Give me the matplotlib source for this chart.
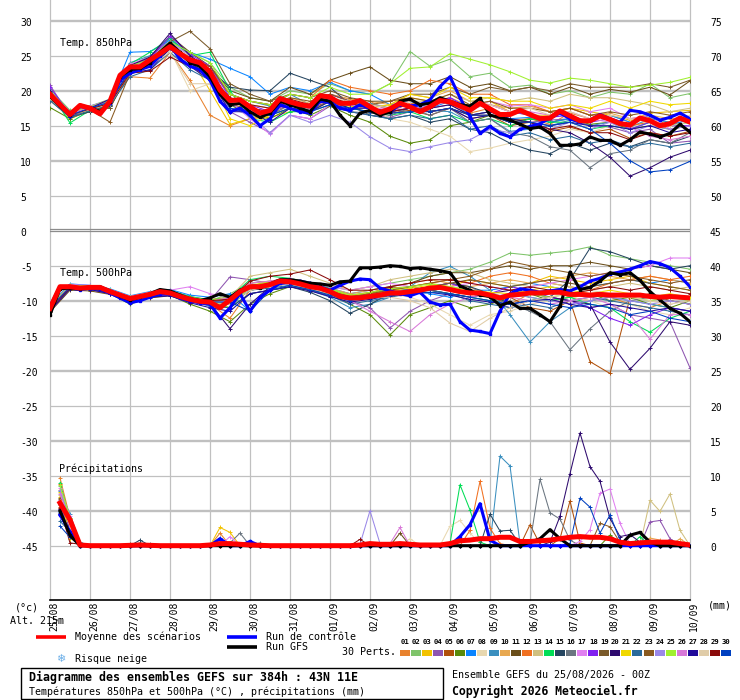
import numpy as np
import matplotlib.pyplot as plt
from matplotlib.patches import Rectangle
from matplotlib.transforms import blended_transform_factory

MONO = 'DejaVu Sans Mono'

dates = ["25/08", "26/08", "27/08", "28/08", "29/08", "30/08", "31/08", "01/09",
         "02/09", "03/09", "04/09", "05/09", "06/09", "07/09", "08/09", "09/09", "10/09"]

member_colors = ["#e8822e", "#7fc46a", "#f2c200", "#8e55b0", "#b0500a", "#5a8a0a",
                 "#0a85ff", "#e8d8b0", "#3a8fbf", "#e8a850", "#6a4e1a", "#f07020",
                 "#d0c080", "#00dd55", "#254560", "#6a7580", "#e080f0", "#8020f0",
                 "#7a5a2a", "#2e0a6e", "#f0d800", "#2a6a9a", "#8a5a20", "#9a88e8",
                 "#a0f030", "#d878d8", "#200a9a", "#e0cca8", "#8a0a0a", "#0040c0"]

# time steps in hours from 25/08 00Z
hours_6 = np.arange(0, 385, 6)
hours_12 = np.arange(0, 385, 12)
hours_pcp = np.arange(6, 385, 6)

# 850 hPa temperature (deg C), 6-hourly
t850_mean = [19.5, 18.0, 16.6, 17.9, 17.5, 16.7, 18.5, 22.2, 23.4, 23.4,
             24.4, 25.3, 26.3, 25.3, 24.4, 24.0, 22.7, 20.1, 18.6, 18.7,
             17.7, 16.8, 17.2, 18.9, 18.4, 18.0, 17.8, 19.3, 19.1, 18.2,
             18.2, 18.6, 17.7, 16.9, 17.4, 18.2, 17.7, 17.0, 17.7, 18.6,
             18.4, 17.8, 17.2, 18.2, 17.4, 16.6, 16.6, 17.2, 16.6, 16.0,
             16.1, 17.1, 16.4, 15.7, 15.7, 16.4, 15.9, 15.3, 15.1, 16.1,
             15.7, 15.0, 15.3, 16.1, 15.5]
t850_ctrl = [19.6, 18.0, 16.4, 17.8, 17.4, 16.8, 18.2, 21.5, 22.5, 23.0,
             23.5, 25.0, 26.5, 24.5, 23.5, 23.0, 21.5, 18.5, 17.0, 17.5,
             16.5, 15.0, 16.0, 18.0, 17.5, 17.0, 16.8, 18.5, 18.3, 17.5,
             17.2, 18.0, 17.5, 16.8, 17.0, 18.0, 17.8, 18.0, 18.7, 20.6,
             22.0, 19.0, 16.3, 13.9, 14.9, 13.9, 13.4, 14.5, 14.9, 15.3,
             16.1, 16.8, 16.0, 15.5, 15.8, 16.6, 16.0, 15.5, 17.2, 17.0,
             16.5, 15.8, 16.2, 16.8, 16.0]
t850_gfs = [19.2, 17.8, 16.5, 17.9, 17.6, 17.0, 18.4, 22.0, 23.0, 23.2,
            24.0, 25.5, 26.8, 25.5, 24.0, 23.5, 22.0, 19.5, 18.0, 18.2,
            17.0, 16.2, 16.8, 18.5, 18.0, 17.5, 17.0, 18.8, 18.5, 16.5,
            15.0, 16.8, 17.2, 16.5, 17.0, 18.5, 18.8, 18.0, 18.2, 19.0,
            18.5, 18.0, 17.8, 18.9, 16.5, 16.2, 15.8, 15.2, 14.6, 14.8,
            13.9, 12.2, 12.2, 12.4, 13.4, 12.9, 12.9, 12.2, 13.0, 14.1,
            13.8, 13.4, 13.9, 15.2, 14.1]

# 850 hPa perturbations 01..30, 12-hourly
t850_members = [
    [19.0, 16.8, 17.6, 18.2, 22.0, 21.8, 25.5, 21.5, 16.5, 15.0, 16.0, 16.5, 18.0, 17.5, 19.5, 18.8, 18.5, 17.0, 18.2, 18.0, 19.0, 16.8, 17.5, 15.8, 16.0, 15.2, 16.8, 16.0, 16.5, 15.5, 16.2, 15.0, 16.0],
    [20.2, 17.2, 17.8, 18.8, 23.5, 25.0, 27.0, 25.5, 24.0, 20.5, 19.0, 18.5, 20.0, 19.5, 21.0, 20.0, 19.5, 21.0, 25.6, 23.5, 24.5, 22.0, 22.5, 20.5, 20.8, 19.5, 20.0, 19.0, 19.8, 19.5, 21.0, 19.0, 19.6],
    [19.2, 16.0, 17.2, 18.0, 23.0, 24.0, 26.5, 24.8, 20.0, 15.2, 16.0, 16.2, 17.0, 17.2, 18.5, 18.0, 18.0, 17.5, 19.0, 18.5, 19.0, 17.8, 18.5, 17.0, 16.5, 16.5, 17.5, 17.0, 16.5, 15.8, 16.8, 17.0, 17.2],
    [20.8, 16.4, 17.4, 18.4, 23.2, 24.5, 27.5, 25.0, 22.0, 17.0, 15.5, 14.0, 16.5, 16.0, 17.8, 17.0, 16.5, 16.2, 17.0, 17.5, 18.0, 16.5, 17.0, 16.0, 15.5, 15.8, 16.0, 15.0, 14.8, 14.0, 14.5, 12.5, 12.8],
    [18.6, 16.2, 17.0, 17.8, 22.5, 23.5, 26.0, 24.0, 22.0, 18.0, 17.5, 17.0, 18.0, 17.5, 18.5, 17.5, 17.0, 16.8, 17.2, 16.5, 17.5, 16.0, 16.5, 15.0, 15.5, 14.2, 14.8, 14.0, 14.5, 13.2, 14.0, 13.5, 14.2],
    [17.6, 16.0, 17.2, 17.6, 22.8, 24.0, 26.5, 24.5, 22.5, 18.0, 16.5, 16.0, 17.5, 16.5, 17.8, 16.5, 15.5, 13.5, 12.5, 13.0, 15.0, 15.5, 16.5, 15.5, 16.0, 15.5, 16.0, 15.2, 15.5, 14.5, 15.0, 14.5, 15.0],
    [19.8, 17.0, 17.8, 18.6, 25.5, 25.6, 27.2, 25.5, 24.5, 23.2, 22.0, 19.5, 20.5, 20.0, 21.2, 20.0, 19.5, 18.0, 18.5, 17.5, 18.5, 16.5, 17.0, 16.0, 16.2, 15.5, 16.0, 15.8, 16.5, 15.5, 16.5, 15.2, 15.8],
    [19.0, 16.5, 17.2, 18.2, 22.8, 23.8, 25.8, 20.0, 21.0, 18.5, 17.8, 16.5, 18.0, 17.5, 18.8, 17.5, 17.5, 16.0, 15.5, 14.5, 13.5, 11.3, 11.8, 12.5, 13.0, 13.5, 14.5, 14.0, 15.0, 14.5, 16.0, 15.5, 16.5],
    [19.4, 16.6, 17.5, 18.6, 24.0, 25.0, 27.0, 25.0, 23.0, 19.5, 18.5, 17.8, 19.5, 18.0, 19.5, 18.5, 18.2, 17.5, 18.0, 17.2, 17.0, 15.5, 16.0, 14.2, 14.5, 15.0, 15.8, 15.0, 15.5, 14.8, 16.0, 15.5, 16.2],
    [19.6, 16.8, 17.6, 18.4, 23.0, 24.2, 26.8, 24.5, 23.5, 19.5, 18.5, 18.0, 19.0, 18.2, 19.5, 18.8, 18.5, 18.0, 19.5, 19.0, 20.0, 18.5, 18.0, 17.5, 17.8, 17.0, 17.5, 16.5, 16.8, 16.0, 16.5, 16.0, 16.2],
    [19.3, 16.4, 17.4, 18.6, 23.5, 24.8, 27.8, 25.5, 23.5, 20.0, 19.0, 18.5, 20.5, 19.5, 21.5, 22.5, 23.4, 21.5, 21.0, 21.0, 22.0, 20.5, 21.0, 20.0, 20.5, 19.5, 20.5, 19.5, 20.2, 19.8, 20.5, 19.4, 21.4],
    [19.5, 16.9, 17.7, 18.7, 23.6, 24.0, 26.0, 24.5, 22.8, 19.5, 18.5, 18.0, 19.5, 19.0, 21.5, 20.5, 20.0, 19.5, 20.0, 21.5, 21.0, 19.5, 19.5, 18.0, 18.0, 17.0, 17.5, 16.5, 16.0, 15.0, 15.5, 14.5, 15.0],
    [18.8, 16.2, 17.0, 18.0, 23.0, 23.8, 26.0, 24.0, 22.5, 19.0, 18.0, 17.5, 18.5, 18.0, 19.0, 18.2, 18.0, 17.8, 18.5, 18.5, 19.5, 18.5, 19.0, 18.5, 19.0, 18.5, 19.5, 19.0, 19.0, 18.5, 18.0, 17.0, 17.5],
    [19.8, 15.4, 17.2, 18.0, 23.8, 25.5, 27.5, 25.0, 25.5, 20.0, 16.0, 15.5, 17.0, 17.0, 18.5, 17.5, 17.0, 16.5, 17.0, 16.0, 16.5, 15.5, 16.0, 15.0, 16.0, 15.5, 15.5, 14.5, 15.0, 14.5, 15.5, 15.0, 15.5],
    [19.0, 16.2, 17.0, 17.8, 22.5, 23.5, 26.5, 24.5, 23.0, 20.5, 20.1, 20.0, 22.5, 21.5, 20.5, 18.0, 16.5, 16.0, 16.5, 15.5, 16.0, 14.5, 14.0, 12.5, 11.5, 11.0, 12.5, 11.5, 12.5, 12.0, 13.0, 12.5, 13.5],
    [19.2, 16.6, 17.4, 18.3, 23.2, 24.0, 26.2, 24.2, 22.0, 18.0, 17.0, 16.5, 18.0, 17.2, 18.5, 17.0, 16.8, 16.5, 17.5, 16.5, 17.5, 15.5, 16.0, 14.0, 13.5, 12.0, 11.5, 9.0, 11.0, 11.5, 13.0, 12.5, 14.0],
    [19.6, 16.8, 17.8, 18.6, 23.8, 24.8, 27.0, 25.0, 22.5, 18.5, 16.0, 13.8, 16.5, 16.0, 18.0, 17.5, 17.5, 17.5, 18.5, 18.0, 19.0, 17.5, 18.5, 17.8, 18.0, 17.5, 18.0, 17.0, 17.5, 16.0, 16.5, 14.5, 15.0],
    [20.5, 16.6, 17.5, 18.6, 23.5, 24.6, 27.8, 25.2, 23.5, 19.0, 18.0, 17.0, 18.5, 18.0, 19.5, 18.5, 18.0, 17.5, 18.0, 18.2, 19.0, 17.5, 18.0, 17.0, 16.5, 16.2, 16.5, 15.5, 16.0, 14.5, 15.5, 15.0, 15.0],
    [19.0, 16.5, 17.4, 17.5, 23.0, 24.5, 27.0, 28.5, 26.0, 21.0, 19.5, 18.5, 19.5, 19.0, 20.0, 19.0, 18.5, 18.5, 19.5, 19.5, 20.5, 19.5, 20.5, 20.0, 20.5, 20.0, 21.0, 20.5, 20.5, 20.5, 21.0, 20.5, 21.5],
    [19.8, 16.8, 17.6, 18.5, 23.6, 24.8, 28.2, 25.0, 23.0, 18.5, 17.5, 17.0, 18.0, 17.5, 19.0, 18.0, 17.5, 17.0, 17.5, 17.5, 18.0, 16.5, 17.0, 16.0, 15.5, 14.5, 14.0, 12.5, 10.5, 7.8, 9.0, 10.5, 11.5],
    [19.3, 16.4, 17.3, 18.2, 23.0, 24.5, 26.5, 24.2, 22.0, 16.0, 15.0, 16.5, 17.5, 17.0, 18.5, 17.8, 17.5, 18.0, 19.5, 19.0, 20.5, 19.0, 19.0, 18.5, 18.5, 17.5, 18.0, 17.5, 18.5, 17.5, 18.5, 18.0, 18.2],
    [18.6, 16.2, 17.2, 18.0, 22.0, 23.0, 25.5, 23.0, 21.5, 17.5, 17.0, 16.5, 17.5, 17.0, 18.0, 17.0, 16.5, 16.0, 16.5, 16.0, 16.5, 14.5, 15.0, 13.5, 14.0, 13.0, 13.5, 12.5, 13.0, 12.0, 12.5, 12.0, 12.5],
    [19.1, 16.6, 17.3, 15.5, 22.5, 23.5, 26.0, 24.5, 23.5, 19.5, 18.5, 18.0, 19.0, 18.5, 19.5, 18.5, 18.0, 18.5, 19.0, 18.5, 19.5, 18.0, 18.5, 17.5, 17.5, 17.0, 17.5, 16.5, 17.0, 16.5, 17.0, 16.5, 17.0],
    [19.5, 16.6, 17.6, 18.4, 23.3, 24.2, 26.2, 24.0, 21.5, 17.5, 16.5, 14.0, 16.5, 15.5, 16.5, 15.5, 13.4, 11.8, 11.3, 12.0, 12.6, 13.0, 14.5, 14.0, 15.0, 14.5, 15.5, 14.5, 15.5, 14.0, 15.0, 14.5, 15.0],
    [20.0, 16.8, 17.7, 18.6, 23.5, 24.5, 27.0, 25.5, 24.0, 19.5, 18.5, 18.0, 19.5, 19.0, 20.5, 19.5, 19.5, 21.0, 23.2, 23.4, 25.3, 24.5, 23.7, 22.7, 21.5, 21.1, 21.8, 21.5, 21.0, 20.5, 20.8, 21.2, 21.9],
    [19.4, 16.7, 17.6, 18.4, 23.2, 24.4, 26.8, 24.6, 22.8, 18.5, 17.5, 16.8, 18.2, 17.5, 18.8, 18.0, 17.5, 17.2, 17.5, 17.8, 18.5, 17.5, 18.0, 17.0, 17.0, 16.5, 17.0, 16.0, 15.5, 14.8, 13.5, 13.0, 13.5],
    [19.9, 16.3, 17.5, 18.8, 22.5, 23.0, 26.0, 23.5, 21.5, 17.0, 17.0, 15.5, 17.5, 17.0, 18.5, 17.5, 17.5, 17.0, 17.5, 17.0, 17.5, 16.0, 16.5, 15.5, 15.5, 15.0, 15.5, 15.0, 15.0, 14.5, 15.0, 14.0, 14.5],
    [19.0, 16.5, 17.3, 18.1, 22.5, 23.6, 25.5, 21.0, 21.0, 18.5, 18.0, 17.5, 18.5, 18.0, 19.0, 18.5, 18.0, 17.5, 18.5, 18.0, 18.5, 17.5, 18.0, 17.0, 17.5, 16.5, 17.0, 16.0, 16.5, 16.0, 15.5, 15.0, 15.5],
    [19.2, 16.5, 17.4, 18.2, 22.5, 22.8, 24.8, 23.5, 22.0, 19.0, 18.0, 17.5, 18.8, 18.0, 19.0, 18.2, 17.5, 17.0, 17.5, 17.0, 17.5, 16.5, 16.5, 15.5, 15.5, 14.5, 15.0, 14.0, 14.0, 13.0, 14.0, 13.5, 14.0],
    [19.4, 16.5, 17.5, 18.4, 23.0, 24.2, 26.4, 24.0, 22.0, 17.5, 16.8, 16.5, 17.5, 17.0, 18.0, 17.5, 17.0, 16.8, 17.0, 17.0, 17.5, 16.5, 16.5, 15.5, 15.5, 15.0, 15.5, 14.5, 12.5, 10.0, 8.4, 8.7, 9.9],
]

# 500 hPa temperature (deg C), 6-hourly
t500_mean = [-11.1, -8.0, -8.0, -8.2, -8.1, -8.1, -8.7, -9.2, -9.7, -9.4,
             -9.1, -8.7, -8.9, -9.4, -9.8, -10.1, -10.2, -11.0, -9.9, -8.7,
             -8.0, -8.0, -7.7, -7.2, -7.3, -7.6, -8.0, -8.2, -8.7, -9.4,
             -9.6, -9.6, -9.4, -9.2, -8.9, -8.9, -8.7, -8.5, -8.2, -8.1,
             -8.4, -8.7, -8.9, -8.9, -9.2, -9.6, -9.2, -9.1, -8.9, -8.9,
             -8.8, -8.8, -9.1, -9.1, -9.2, -9.1, -9.2, -9.2, -9.2, -9.2,
             -9.4, -9.5, -9.4, -9.5, -9.6]
t500_ctrl = [-10.8, -8.0, -8.2, -8.4, -8.2, -8.3, -8.9, -9.6, -10.3, -10.0,
             -9.5, -9.0, -9.0, -9.6, -10.0, -10.3, -10.5, -12.5, -11.0, -9.0,
             -11.5, -9.5, -8.5, -7.5, -7.4, -7.2, -7.5, -8.0, -8.5, -7.8,
             -7.2, -6.9, -7.0, -8.2, -8.6, -9.0, -9.3, -8.8, -10.2, -10.6,
             -10.5, -13.0, -14.2, -14.4, -14.7, -11.5, -9.0, -8.3, -8.5, -8.8,
             -8.6, -8.4, -8.6, -8.0, -7.2, -6.8, -6.2, -5.9, -5.5, -5.0,
             -4.4, -4.7, -5.3, -6.5, -8.0]
t500_gfs = [-12.0, -8.3, -8.2, -8.3, -8.0, -8.0, -8.6, -9.3, -9.9, -9.5,
            -9.0, -8.4, -8.6, -9.2, -9.7, -10.0, -9.6, -9.0, -9.5, -8.5,
            -8.0, -8.2, -7.6, -7.0, -7.0, -7.2, -7.5, -7.6, -7.8, -7.3,
            -7.2, -5.3, -5.3, -5.2, -5.0, -5.1, -5.4, -5.3, -5.5, -5.7,
            -6.0, -7.9, -8.5, -9.2, -9.4, -10.7, -10.2, -11.1, -11.1, -12.0,
            -13.0, -10.8, -5.9, -8.4, -8.1, -7.2, -6.0, -6.3, -6.0, -7.1,
            -8.7, -9.9, -11.1, -11.8, -13.0]

# 500 hPa perturbations 01..30, 12-hourly
t500_members = [
    [-11.0, -7.8, -8.0, -8.5, -9.5, -9.0, -8.5, -9.5, -10.5, -12.5, -8.5, -7.5, -7.0, -7.8, -8.5, -9.0, -9.5, -8.0, -8.5, -8.0, -7.5, -8.0, -9.5, -10.5, -9.0, -8.5, -9.5, -10.0, -9.5, -10.5, -11.0, -10.0, -10.5],
    [-10.8, -8.2, -8.3, -8.8, -9.8, -9.2, -8.8, -9.6, -10.0, -9.0, -7.5, -7.2, -6.8, -7.5, -8.0, -8.5, -8.0, -7.5, -7.0, -6.5, -6.0, -5.5, -4.5, -3.2, -3.5, -3.2, -2.9, -2.3, -3.5, -4.0, -4.5, -5.0, -5.5],
    [-11.2, -8.0, -8.2, -8.6, -9.6, -9.3, -9.0, -9.8, -10.3, -10.0, -7.8, -7.5, -7.2, -8.0, -8.8, -9.5, -9.0, -8.5, -8.0, -7.5, -8.0, -7.0, -7.5, -8.0, -7.5, -6.5, -7.0, -7.5, -7.0, -6.5, -7.5, -8.0, -8.5],
    [-10.9, -8.1, -7.9, -8.9, -10.0, -9.0, -8.6, -9.4, -10.0, -6.6, -7.0, -7.5, -7.2, -8.2, -9.0, -10.0, -11.0, -13.9, -11.5, -10.0, -9.0, -9.5, -10.0, -11.0, -10.0, -9.5, -10.0, -11.0, -10.5, -12.0, -12.5, -13.0, -19.6],
    [-11.3, -8.0, -8.1, -8.7, -9.7, -9.1, -9.0, -10.0, -10.5, -10.5, -8.5, -8.0, -7.5, -8.0, -8.5, -9.5, -9.0, -8.5, -8.5, -8.0, -8.5, -9.0, -9.5, -9.5, -11.0, -11.5, -10.0, -18.7, -20.4, -9.6, -9.0, -10.0, -10.5],
    [-11.5, -8.3, -8.4, -9.0, -10.5, -9.5, -9.2, -10.5, -11.5, -13.0, -10.5, -9.0, -8.0, -8.5, -9.0, -10.5, -12.0, -14.9, -12.0, -11.0, -10.0, -11.0, -10.5, -9.5, -9.0, -10.0, -9.5, -9.0, -10.0, -9.5, -10.5, -11.0, -10.0],
    [-10.6, -7.6, -7.8, -8.3, -9.3, -8.7, -8.4, -9.2, -9.5, -9.0, -11.5, -8.0, -7.5, -7.8, -8.2, -9.0, -8.5, -8.0, -8.5, -9.0, -9.5, -8.5, -8.5, -8.0, -7.5, -8.0, -8.5, -8.0, -7.5, -7.0, -7.5, -7.0, -7.5],
    [-11.1, -8.0, -8.1, -8.8, -9.8, -9.2, -9.0, -9.9, -10.3, -10.5, -8.5, -8.0, -7.5, -8.2, -9.0, -10.0, -9.5, -9.0, -9.5, -10.5, -12.0, -13.5, -12.0, -11.5, -10.5, -10.0, -9.5, -10.0, -11.0, -10.5, -11.5, -12.0, -11.0],
    [-11.4, -8.2, -8.3, -8.9, -9.9, -9.4, -9.1, -10.0, -10.8, -11.0, -9.0, -8.5, -8.0, -8.5, -9.5, -11.0, -10.5, -9.5, -8.0, -6.0, -5.1, -6.5, -8.5, -12.0, -15.9, -13.0, -11.0, -10.0, -9.5, -10.0, -10.5, -11.0, -11.5],
    [-10.7, -7.8, -7.9, -8.4, -9.4, -8.8, -8.6, -9.5, -9.8, -9.5, -7.5, -7.2, -6.8, -7.5, -8.2, -9.0, -8.5, -8.0, -7.5, -7.0, -7.5, -8.0, -7.5, -7.0, -7.5, -7.0, -6.5, -6.0, -6.5, -7.0, -6.5, -7.0, -7.5],
    [-11.6, -8.5, -8.6, -9.1, -10.2, -9.6, -9.3, -10.2, -10.5, -10.2, -8.2, -7.8, -7.5, -8.0, -9.0, -9.5, -9.0, -8.0, -7.5, -6.5, -6.0, -6.0, -5.5, -5.0, -5.5, -5.0, -5.0, -4.5, -5.0, -5.5, -5.0, -5.5, -6.0],
    [-11.0, -7.9, -8.0, -8.6, -9.6, -9.0, -8.7, -9.7, -10.2, -10.0, -8.0, -7.6, -7.2, -7.8, -8.5, -9.2, -8.8, -8.2, -8.0, -7.5, -7.0, -7.5, -6.5, -6.0, -6.5, -7.5, -8.0, -8.5, -7.5, -7.0, -6.5, -7.0, -6.5],
    [-11.3, -8.1, -8.2, -8.8, -9.8, -9.2, -9.0, -9.8, -10.0, -9.5, -6.5, -6.0, -5.5, -6.5, -7.5, -8.5, -8.0, -7.0, -6.5, -6.0, -5.5, -6.0, -7.0, -7.5, -8.0, -7.5, -8.0, -8.5, -8.0, -7.5, -8.0, -8.5, -8.0],
    [-10.8, -7.9, -8.0, -8.5, -9.5, -8.9, -8.6, -9.4, -9.9, -9.5, -7.0, -6.5, -6.8, -7.5, -8.2, -9.5, -9.0, -8.5, -8.0, -8.5, -9.0, -9.5, -10.0, -9.0, -9.5, -10.0, -9.5, -10.5, -11.0, -13.0, -14.5, -12.5, -11.5],
    [-11.2, -8.1, -8.3, -8.9, -9.9, -9.3, -9.1, -10.0, -10.5, -11.0, -9.0, -8.5, -8.0, -8.8, -10.0, -11.8, -10.5, -9.0, -8.5, -8.0, -7.5, -8.0, -9.0, -10.5, -10.0, -9.5, -7.0, -2.5, -3.0, -4.0, -5.0, -5.5, -5.0],
    [-11.0, -8.0, -8.1, -8.7, -9.7, -9.1, -8.9, -9.8, -10.3, -10.5, -8.5, -8.0, -7.5, -8.3, -9.0, -9.8, -9.5, -9.0, -8.5, -8.0, -8.5, -9.0, -9.5, -10.5, -11.5, -13.0, -17.0, -14.0, -11.5, -10.0, -9.5, -10.0, -10.5],
    [-10.9, -7.7, -7.8, -8.4, -9.4, -8.8, -8.5, -8.0, -9.0, -9.5, -8.0, -7.5, -7.0, -7.5, -8.0, -8.5, -8.0, -7.5, -8.0, -8.5, -8.0, -7.5, -8.0, -8.5, -8.0, -7.5, -7.0, -6.5, -6.0, -5.5, -5.0, -3.9, -3.9],
    [-11.5, -8.2, -8.4, -9.0, -10.0, -9.4, -9.2, -10.1, -10.6, -9.5, -8.0, -7.8, -7.4, -8.0, -8.8, -9.8, -9.5, -9.0, -8.5, -8.0, -7.5, -8.5, -9.0, -8.0, -8.5, -9.5, -10.0, -11.0, -12.5, -13.5, -12.0, -11.0, -11.5],
    [-11.1, -8.0, -8.2, -8.8, -9.8, -9.2, -9.0, -9.9, -10.2, -10.0, -8.0, -7.6, -7.2, -8.0, -8.8, -9.5, -9.2, -8.8, -8.5, -8.0, -7.5, -7.0, -7.5, -8.0, -7.5, -7.0, -7.5, -8.0, -7.5, -7.0, -7.5, -8.0, -8.5],
    [-11.2, -8.1, -8.2, -8.7, -9.7, -9.1, -8.9, -9.8, -10.4, -14.0, -10.5, -8.0, -7.5, -8.0, -8.8, -9.5, -9.0, -8.5, -8.0, -8.5, -9.0, -9.5, -9.0, -8.5, -9.0, -9.5, -10.0, -10.5, -15.9, -19.8, -16.8, -13.0, -13.5],
    [-10.9, -7.9, -8.0, -8.6, -9.6, -9.0, -8.8, -9.6, -10.0, -9.5, -7.8, -7.3, -7.0, -7.7, -8.5, -9.3, -9.0, -8.5, -8.2, -7.8, -8.0, -8.5, -8.8, -9.0, -8.5, -8.0, -8.5, -9.0, -8.5, -9.0, -9.5, -9.0, -9.5],
    [-11.3, -8.2, -8.3, -8.9, -9.9, -9.3, -9.1, -10.0, -10.6, -10.5, -8.5, -8.2, -7.8, -8.5, -9.3, -10.5, -10.0, -9.5, -9.0, -8.5, -9.0, -10.0, -10.5, -11.0, -10.5, -11.0, -10.0, -9.5, -10.0, -10.5, -11.0, -11.5, -12.0],
    [-11.0, -8.0, -8.1, -8.7, -9.7, -9.1, -8.9, -9.7, -10.1, -9.8, -7.8, -7.5, -7.1, -7.8, -8.6, -9.4, -9.0, -8.5, -8.0, -7.5, -7.0, -6.5, -5.5, -4.4, -5.0, -5.5, -6.0, -6.5, -6.0, -6.5, -7.0, -7.5, -7.0],
    [-11.2, -8.1, -8.2, -8.7, -9.7, -9.2, -9.0, -9.8, -10.3, -10.0, -8.2, -7.8, -7.4, -8.1, -8.8, -9.6, -9.3, -8.8, -8.5, -8.2, -8.5, -9.0, -9.5, -9.0, -9.5, -10.0, -10.5, -10.0, -9.5, -10.0, -10.5, -10.0, -10.5],
    [-10.8, -7.8, -7.9, -8.5, -9.5, -8.9, -8.7, -9.5, -10.0, -11.0, -8.0, -7.3, -7.0, -7.6, -8.3, -9.2, -8.8, -8.3, -8.0, -7.6, -8.0, -8.5, -9.0, -9.5, -9.0, -9.5, -9.0, -9.5, -9.0, -9.5, -10.0, -9.5, -10.0],
    [-11.0, -7.9, -8.0, -8.6, -9.6, -9.0, -8.8, -9.7, -10.1, -9.5, -7.5, -7.2, -6.8, -7.6, -8.6, -10.0, -11.5, -13.0, -14.4, -12.0, -10.5, -9.5, -9.0, -9.5, -10.0, -10.5, -10.0, -9.5, -10.5, -12.0, -15.5, -12.0, -12.0],
    [-11.4, -8.3, -8.4, -9.0, -10.3, -9.5, -9.3, -10.3, -11.0, -11.5, -9.0, -8.5, -8.0, -8.6, -9.4, -10.2, -9.8, -9.3, -9.0, -8.8, -9.2, -9.8, -10.2, -10.5, -10.0, -9.8, -10.5, -11.0, -10.5, -11.0, -11.5, -11.0, -11.5],
    [-11.1, -8.0, -8.1, -8.7, -9.7, -9.1, -8.9, -9.7, -10.2, -10.5, -8.5, -8.0, -7.6, -8.3, -9.0, -9.8, -9.5, -9.5, -10.0, -11.0, -13.2, -14.4, -12.5, -11.0, -10.0, -9.5, -9.0, -8.5, -9.0, -9.5, -10.0, -10.5, -10.0],
    [-11.2, -8.1, -8.2, -8.8, -9.8, -9.1, -8.8, -9.6, -10.0, -9.8, -7.2, -6.5, -6.2, -5.6, -7.0, -8.5, -8.5, -8.0, -7.5, -7.0, -7.0, -7.5, -8.0, -8.5, -8.0, -8.5, -9.0, -8.5, -8.0, -8.5, -8.0, -8.5, -9.0],
    [-11.0, -8.0, -8.1, -8.7, -9.7, -9.1, -8.9, -9.8, -10.2, -10.2, -11.5, -8.5, -7.8, -8.4, -9.2, -10.0, -9.6, -9.2, -9.0, -8.8, -9.0, -9.5, -10.0, -10.5, -10.0, -10.5, -11.0, -10.5, -11.0, -12.0, -11.5, -12.5, -13.0],
]

# 6-hourly precipitation (mm), ending at 6h .. 384h
pcp_mean = [6.1, 3.7, 0.1, 0.0, 0.0, 0.0, 0.0, 0.05, 0.1, 0.05,
            0.0, 0.0, 0.0, 0.0, 0.0, 0.1, 0.3, 0.3, 0.2, 0.1,
            0.05, 0.0, 0.0, 0.0, 0.0, 0.0, 0.0, 0.0, 0.0, 0.0,
            0.1, 0.3, 0.2, 0.2, 0.3, 0.2, 0.1, 0.1, 0.1, 0.3,
            0.7, 0.8, 1.0, 1.0, 1.2, 1.2, 0.6, 0.6, 0.7, 0.8,
            1.0, 1.2, 1.3, 1.2, 1.2, 1.0, 0.5, 0.3, 0.4, 0.5,
            0.5, 0.5, 0.3, 0.1]
# non-zero amounts only: (hour, mm)
pcp_ctrl = [(6, 4.4), (12, 2.0), (102, 1.0), (120, 0.6), (246, 1.3), (252, 3.0),
            (258, 6.0), (264, 0.8)]
pcp_gfs = [(6, 5.0), (12, 1.5), (288, 0.5), (294, 1.0), (300, 2.3), (306, 1.0),
           (348, 1.5), (354, 1.9), (360, 0.5)]
pcp_members = [
    [(6, 9.7), (12, 4.0), (102, 1.8), (372, 0.6)],
    [(6, 8.5), (12, 3.5)],
    [(6, 7.0), (12, 2.5), (18, 0.3), (102, 2.6), (108, 1.9)],
    [(6, 6.5), (12, 3.0), (360, 3.4), (366, 3.6), (372, 1.0)],
    [(6, 5.5), (12, 2.0), (288, 3.0), (294, 0.2), (306, 1.0), (312, 6.4), (318, 0.4)],
    [(6, 6.0), (12, 2.8), (336, 1.5), (342, 0.4)],
    [(6, 4.8), (12, 2.0), (120, 0.6)],
    [(6, 7.5), (12, 3.2), (216, 1.0), (240, 2.8), (246, 3.6), (252, 1.8), (258, 0.3)],
    [(6, 7.8), (12, 4.5), (18, 0.5), (264, 0.2), (270, 12.8), (276, 11.4), (282, 0.3)],
    [(6, 8.0), (12, 3.0), (360, 1.1), (366, 0.8), (378, 1.0)],
    [(6, 6.2), (12, 2.4), (54, 0.4), (210, 1.8)],
    [(6, 8.8), (12, 3.8), (252, 2.2), (258, 9.2), (264, 2.5), (270, 0.3)],
    [(6, 7.2), (12, 2.6), (360, 6.5), (366, 4.9), (372, 7.4), (378, 2.2)],
    [(6, 9.0), (12, 3.6), (240, 0.3), (246, 8.7), (252, 5.1), (258, 0.5), (354, 1.3)],
    [(6, 5.0), (12, 1.8), (54, 0.8), (264, 4.5), (270, 2.1), (276, 2.2), (282, 0.2)],
    [(6, 5.8), (12, 2.2), (60, 0.3), (108, 0.4), (114, 1.8), (126, 0.4), (288, 0.3),
     (294, 9.5), (300, 4.7), (306, 3.8), (312, 0.8)],
    [(6, 8.2), (12, 4.2), (108, 1.3), (318, 0.6), (324, 2.3), (330, 7.5), (336, 8.1),
     (342, 3.2), (348, 0.2)],
    [(6, 5.2), (12, 2.6)],
    [(6, 6.8), (12, 2.9)],
    [(6, 4.6), (12, 1.5), (102, 0.9), (300, 0.5), (306, 4.2), (312, 10.3), (318, 16.1),
     (324, 11.3), (330, 9.2), (336, 3.9), (342, 1.3), (348, 1.6), (354, 0.5)],
    [(6, 7.6), (12, 1.0), (18, 0.4)],
    [(6, 3.5), (12, 2.0)],
    [(6, 6.6), (12, 3.1), (48, 0.3), (330, 3.2), (336, 2.7), (342, 0.5)],
    [(6, 7.9), (12, 3.3), (186, 0.2), (192, 5.0), (198, 0.3)],
    [(6, 8.6), (12, 4.0)],
    [(6, 7.4), (12, 3.4), (204, 0.3), (210, 2.6)],
    [(6, 4.4), (12, 1.7)],
    [(6, 6.4), (12, 2.7)],
    [(6, 5.4), (12, 0.4), (18, 0.2), (186, 0.9)],
    [(6, 2.8), (12, 1.2), (102, 1.1), (312, 0.3), (318, 6.8), (324, 5.5), (330, 1.8),
     (336, 4.4), (342, 0.8), (348, 0.3)],
]

# 0 mm of precipitation sits on -45 of the left scale
PCP_ZERO = -45


def pcp_curve(events):
    mm = np.zeros(len(hours_pcp))
    for h, v in events:
        mm[h // 6 - 1] = v
    return PCP_ZERO + mm


fig = plt.figure(figsize=(7.4, 7.0), dpi=100)
ax = fig.add_axes([50 / 740, 100 / 700, 640 / 740, 600 / 700])
ax.set_xlim(0, 16)
ax.set_ylim(-52.76, 32.96)
for s in ['left', 'right', 'top']:
    ax.spines[s].set_visible(False)
ax.spines['bottom'].set_color('black')
ax.spines['bottom'].set_linewidth(1.2)
ax.tick_params(left=False, bottom=False, labelleft=False, labelbottom=False)

# grid
for d in range(17):
    ax.axvline(d, color='#c0c0c0', lw=0.9, zorder=1, clip_on=False)
for v in [30, 20, 10, -10, -20, -30, -40]:
    ax.axhline(v, color='#c0c0c0', lw=1.7, zorder=1)
for v in [25, 15, 5, -5, -15, -25, -35, -45]:
    ax.axhline(v, color='#c0c0c0', lw=0.9, zorder=1)
ax.axhline(0.29, color='#8c8c8c', lw=0.9, zorder=1)
ax.axhline(0.0, color='#8c8c8c', lw=0.9, zorder=1)

x6 = hours_6 / 24
x12 = hours_12 / 24
xp = hours_pcp / 24

# perturbations
for i in range(30):
    c = member_colors[i]
    kw = dict(color=c, lw=0.75, marker='+', ms=3, mew=0.7, zorder=3)
    ax.plot(x12, t850_members[i], **kw)
    ax.plot(x12, t500_members[i], **kw)
    ax.plot(xp, pcp_curve(pcp_members[i]), **kw)

# control and GFS runs
for data, c in [((t850_ctrl, t500_ctrl, pcp_ctrl), 'blue'), ((t850_gfs, t500_gfs, pcp_gfs), 'black')]:
    kw = dict(color=c, lw=2.2, marker='s', ms=2, zorder=4)
    ax.plot(x6, data[0], **kw)
    ax.plot(x6, data[1], **kw)
    ax.plot(xp, pcp_curve(data[2]), **kw)

# ensemble mean
ax.plot(x6, t850_mean, color='red', lw=3.6, zorder=5)
ax.plot(x6, t500_mean, color='red', lw=3.6, zorder=5)
ax.plot(xp, PCP_ZERO + np.array(pcp_mean), color='red', lw=3.6, zorder=5)

# axis labels
ytr = blended_transform_factory(fig.transFigure, ax.transData)
for v in range(30, -50, -5):
    ax.text(20 / 740, v - 0.3, str(v), transform=ytr, ha='left', va='center',
            fontsize=7, family=MONO)
    ax.text(710 / 740, v - 0.3, str(v + 45), transform=ytr, ha='left', va='center',
            fontsize=7, family=MONO)
xtr = blended_transform_factory(ax.transData, fig.transFigure)
for d, lab in enumerate(dates):
    ax.text(d + 0.1, 1 - 602 / 700, lab, transform=xtr, rotation=90, ha='center',
            va='top', fontsize=7, family=MONO)

# overlay in pixel coordinates for legend and captions
ov = fig.add_axes([0, 0, 1, 1])
ov.set_xlim(0, 740)
ov.set_ylim(700, 0)
ov.axis('off')

txt = dict(fontsize=7.2, family=MONO, va='center', ha='left')
ov.text(60, 43, "Temp. 850hPa", **txt)
ov.text(60, 273, "Temp. 500hPa", **txt)
ov.text(59, 469, "Précipitations", **txt)
ov.text(15, 607, "(°c)", **txt)
ov.text(10, 621, "Alt. 215m", **txt)
ov.text(708, 606, "(mm)", **txt)

ov.plot([36, 66], [637, 637], color='red', lw=2.6, solid_capstyle='butt')
ov.text(75, 637, "Moyenne des scénarios", **txt)
ov.plot([227, 257], [637, 637], color='blue', lw=2.6, solid_capstyle='butt')
ov.text(266, 637, "Run de contrôle", **txt)
ov.plot([227, 257], [647, 647], color='black', lw=2.6, solid_capstyle='butt')
ov.text(266, 647, "Run GFS", **txt)
ov.text(61, 659, "\u2744", fontsize=8, color='#6aaee8', ha='center', va='center',
        family='DejaVu Sans')
ov.text(75, 659, "Risque neige", **txt)
ov.text(396, 652, "30 Perts.", fontsize=7.2, family=MONO, va='center', ha='right')

for i, c in enumerate(member_colors):
    x0 = 400 + 11.07 * i
    ov.add_patch(Rectangle((x0, 649.5), 10, 6.5, color=c, lw=0))
    ov.text(x0 + 5, 642, "%02d" % (i + 1), fontsize=5.2, family=MONO,
            fontweight='bold', ha='center', va='center')

ov.add_patch(Rectangle((20.5, 668), 422, 31, fill=False, ec='black', lw=1))
ov.text(29, 677, "Diagramme des ensembles GEFS sur 384h : 43N 11E",
        fontsize=8.4, family=MONO, fontweight='bold', va='center', ha='left')
ov.text(29, 692, "Températures 850hPa et 500hPa (°C) , précipitations (mm)", **txt)
ov.text(452, 675, "Ensemble GEFS du 25/08/2026 - 00Z", **txt)
ov.text(452, 691, "Copyright 2026 Meteociel.fr", fontsize=8.3, family=MONO,
        fontweight='bold', va='center', ha='left')

fig.savefig('out.png', dpi=100)
